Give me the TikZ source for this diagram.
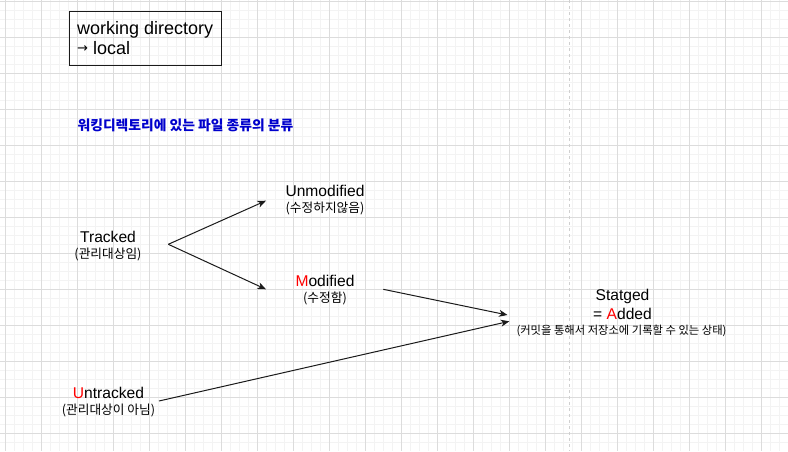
\documentclass[tikz,border=0pt]{standalone}
\usepackage{fontspec}
\setmainfont{Liberation Sans}
\newfontfamily\kr{Noto Sans CJK KR}
\newfontfamily\symb{DejaVu Sans}
\usetikzlibrary{arrows.meta}
\definecolor{gridmajor}{HTML}{DCDCDC}
\definecolor{gridminor}{HTML}{F3F3F3}
\definecolor{pagebreak}{HTML}{D0D0D0}
\definecolor{titleblue}{HTML}{0000CC}
\definecolor{hlred}{HTML}{FF0000}
\definecolor{ink}{HTML}{1A1A1A}
\tikzset{
  minorline/.style={gridminor, line width=0.8pt},
  majorline/.style={gridmajor, line width=0.8pt},
  label/.style={inner sep=0pt, font=\fontsize{15.6}{17}\selectfont},
  sublabel/.style={inner sep=0pt, font=\kr\fontsize{12.7}{14}\selectfont},
  smalllabel/.style={inner sep=0pt, font=\kr\fontsize{11.3}{12}\selectfont},
  conn/.style={ink, line width=1pt, -{Stealth[length=8.5pt, width=7pt, inset=2.5pt]}},
  infobox/.style={draw=ink, line width=1pt, minimum width=152pt, minimum height=54pt, inner sep=0pt}
}
\begin{document}
\begin{tikzpicture}[x=1pt, y=-1pt]
\fill[white] (0,0) rectangle (788,451);
\useasboundingbox (0,0) rectangle (788,451);
% grid
\foreach \x in {5,14,...,788} \draw[minorline] (\x,0) -- (\x,451);
\foreach \y in {1.3,10.3,...,451} \draw[minorline] (0,\y) -- (788,\y);
\foreach \x in {5,41,...,788} \draw[majorline] (\x,0) -- (\x,451);
\foreach \y in {1.3,37.3,...,451} \draw[majorline] (0,\y) -- (788,\y);
% page break
\draw[pagebreak, line width=1.5pt, dash pattern=on 3pt off 3pt] (569.5,0) -- (569.5,451);

% box
\node[infobox] (box) at (145,38) {};
\node[anchor=west, inner sep=0pt, align=left, font=\fontsize{18}{20}\selectfont] (boxtext) at (77,38) {working directory\\\raisebox{1.5pt}{\symb\fontsize{13}{13}\selectfont →} local};

% title
\node[inner sep=0pt, font=\kr\bfseries\fontsize{13.8}{15}\selectfont, text=titleblue] (title) at (185.5,125) {워킹디렉토리에 있는 파일 종류의 분류};

% labels
\node[label] (tracked) at (108,237) {Tracked};
\node[sublabel] (trackedsub) at (108,254) {(관리대상임)};
\node[label] (unmod) at (325,191) {Unmodified};
\node[sublabel] (unmodsub) at (325,208) {(수정하지않음)};
\node[label] (mod) at (325,281) {{\color{hlred}M}odified};
\node[sublabel] (modsub) at (325,298) {(수정함)};
\node[label] (staged) at (622.5,296) {Statged};
\node[label] (added) at (622.5,314) {= {\color{hlred}A}dded};
\node[smalllabel] (stagedsub) at (621.5,331) {(커밋을 통해서 저장소에 기록할 수 있는 상태)};
\node[label] (untracked) at (108.5,393) {{\color{hlred}U}ntracked};
\node[sublabel] (untrackedsub) at (108.5,410) {(관리대상이 아님)};

% connector end points
\coordinate (tfork) at (168.3,244.3);
\coordinate (unmodin) at (266,200.7);
\coordinate (modin) at (266,289.3);
\coordinate (modout) at (383.3,289.3);
\coordinate (stagedin1) at (507.5,315);
\coordinate (stagedin2) at (509.3,321.3);
\coordinate (untrackedout) at (159,401);

\draw[conn] (tfork) -- (unmodin);
\draw[conn] (tfork) -- (modin);
\draw[conn] (modout) -- (stagedin1);
\draw[conn] (untrackedout) -- (stagedin2);
\end{tikzpicture}
\end{document}
